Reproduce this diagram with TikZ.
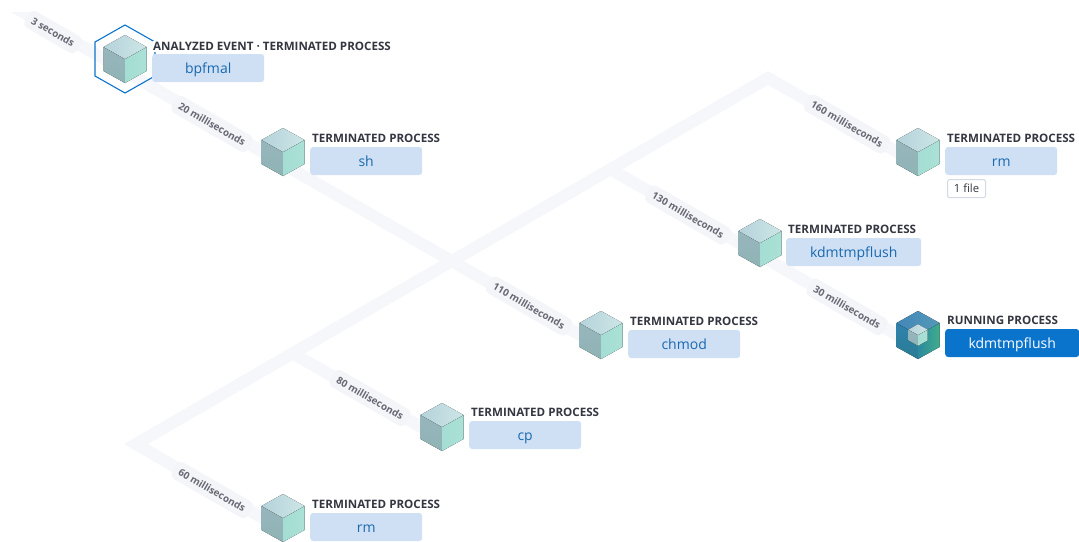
\documentclass[tikz,border=0pt]{standalone}
\usepackage{fontspec}
\setmainfont{Open Sans}
\usetikzlibrary{positioning}
\definecolor{edgegrey}{HTML}{F6F7FA}
\definecolor{pillgrey}{HTML}{F4F5F9}
\definecolor{timegrey}{HTML}{666873}
\definecolor{titledark}{HTML}{343741}
\definecolor{boxblue}{HTML}{CFE0F5}
\definecolor{boxtext}{HTML}{1A69AE}
\definecolor{runblue}{HTML}{0A74CC}
\definecolor{filegrey}{HTML}{D3DAE6}
\tikzset{
  edgeline/.style={draw=edgegrey,line width=12pt},
  timelabel/.style={fill=pillgrey,rounded corners=5pt,inner xsep=6pt,inner ysep=0pt,minimum height=19pt,text=timegrey,font=\fontsize{9.9}{10}\selectfont\bfseries,rotate=-30},
  procbox/.style={fill=boxblue,text=boxtext,rounded corners=3pt,minimum width=112pt,minimum height=28pt,inner sep=0pt,text height=10pt,text depth=0pt,font=\fontsize{14}{15}\selectfont},
  runbox/.style={procbox,fill=runblue,text=white,minimum width=134pt},
  proctitle/.style={text=titledark,inner sep=0pt,font=\fontsize{11.6}{12}\selectfont\bfseries},
  filebox/.style={draw=filegrey,line width=1pt,fill=white,rounded corners=1.5pt,inner sep=0pt,minimum width=38pt,minimum height=18pt,text=titledark,font=\fontsize{11.3}{12}\selectfont},
  pics/cube/.style={code={
    \fill[top color=HTMLa,bottom color=HTMLb] (0,0) -- (-21.5,-12) -- (-21.5,12) -- (0,24) -- cycle;
    \fill[left color=HTMLc,right color=HTMLd] (0,0) -- (21.5,-12) -- (21.5,12) -- (0,24) -- cycle;
    \fill[left color=HTMLe,right color=HTMLf] (0,0) -- (-21.5,-12) -- (0,-24) -- (21.5,-12) -- cycle;
  }},
  pics/runcube/.style={code={
    \fill[top color=HTMLg,bottom color=HTMLh] (0,0) -- (-21.5,-12) -- (-21.5,12) -- (0,24) -- cycle;
    \fill[left color=HTMLi,right color=HTMLj] (0,0) -- (21.5,-12) -- (21.5,12) -- (0,24) -- cycle;
    \fill[left color=HTMLk,right color=HTMLl] (0,0) -- (-21.5,-12) -- (0,-24) -- (21.5,-12) -- cycle;
  }}
}
\definecolor{HTMLa}{HTML}{97B6BC}
\definecolor{HTMLb}{HTML}{8FB3B5}
\definecolor{HTMLc}{HTML}{A4DDD3}
\definecolor{HTMLd}{HTML}{ABE1D7}
\definecolor{HTMLe}{HTML}{B5D3DB}
\definecolor{HTMLf}{HTML}{CDE5E6}
\definecolor{HTMLg}{HTML}{2F82AE}
\definecolor{HTMLh}{HTML}{2A7C93}
\definecolor{HTMLi}{HTML}{2B8A9E}
\definecolor{HTMLj}{HTML}{40AC8C}
\definecolor{HTMLk}{HTML}{4287B8}
\definecolor{HTMLl}{HTML}{5499B8}
\begin{document}
\begin{tikzpicture}[x=1pt,y=-1pt]
\useasboundingbox (0,0) rectangle (1079,541);
% points where the edges meet the cubes
\coordinate (bpfmal) at (125,71);
\coordinate (sh) at (283,164);
\coordinate (chmod) at (601,347);
\coordinate (cp) at (442,439);
\coordinate (rmlow) at (283,530);
\coordinate (rmtop) at (918,164);
\coordinate (flusha) at (760,255);
\coordinate (flushb) at (918,347);
% edges
\coordinate (origin) at (2,0);
\coordinate (peak) at (768,78);
\coordinate (foot) at (136,444);
\coordinate (forka) at (610,169);
\coordinate (forkb) at (292,353);
\begin{scope}
\clip (0,12) rectangle (1079,541);
\draw[edgeline] (origin) -- (bpfmal) -- (sh) -- (chmod);
\end{scope}
\draw[edgeline] (rmlow) -- (foot) -- (peak) -- (rmtop);
\draw[edgeline] (forka) -- (flusha) -- (flushb);
\draw[edgeline] (forkb) -- (cp);
% times
\node[timelabel] (t3s) at (53,32) {3 seconds};
\node[timelabel] (t20) at (212,124) {20 milliseconds};
\node[timelabel] (t160) at (847,124) {160 milliseconds};
\node[timelabel] (t130) at (688,215) {130 milliseconds};
\node[timelabel] (t110) at (529,306) {110 milliseconds};
\node[timelabel] (t30) at (847,307) {30 milliseconds};
\node[timelabel] (t80) at (370,398) {80 milliseconds};
\node[timelabel] (t60) at (212,490) {60 milliseconds};
% cubes
\draw[runblue,line width=1.1pt] (125,25) -- (155,42) -- (155,76) -- (125,93) -- (95,76) -- (95,42) -- cycle;
\pic at ([yshift=12pt]bpfmal) {cube};
\pic at ([yshift=12pt]sh) {cube};
\pic at ([yshift=12pt]chmod) {cube};
\pic at ([yshift=12pt]cp) {cube};
\pic at ([yshift=12pt]rmlow) {cube};
\pic at ([yshift=12pt]rmtop) {cube};
\pic at ([yshift=12pt]flusha) {cube};
\pic at ([yshift=12pt]flushb) {runcube};
\pic[scale=0.45] at ([yshift=12pt]flushb) {cube};
% boxes
\node[procbox,anchor=west] (bpfmalbox) at (152,68) {bpfmal};
\node[procbox,anchor=west] (shbox) at (310,161) {sh};
\node[procbox,anchor=west] (chmodbox) at (628,344) {chmod};
\node[procbox,anchor=west] (cpbox) at (469,435) {cp};
\node[procbox,anchor=west] (rmlowbox) at (310,527) {rm};
\node[procbox,anchor=west] (rmtopbox) at (945,161) {rm};
\node[procbox,anchor=west,minimum width=135pt] (flushabox) at (786,252) {kdmtmpflush};
\node[runbox,anchor=west] (flushbbox) at (945,343) {kdmtmpflush};
\node[proctitle,fill=white,inner ysep=1.5pt,above=1.5pt of bpfmalbox.north west,anchor=south west,xshift=1pt] (bpfmaltitle) {ANALYZED EVENT · TERMINATED PROCESS};
\node[proctitle,above=4pt of shbox.north west,anchor=south west,xshift=2pt] (shtitle) {TERMINATED PROCESS};
\node[proctitle,above=4pt of chmodbox.north west,anchor=south west,xshift=2pt] (chmodtitle) {TERMINATED PROCESS};
\node[proctitle,above=4pt of cpbox.north west,anchor=south west,xshift=2pt] (cptitle) {TERMINATED PROCESS};
\node[proctitle,above=4pt of rmlowbox.north west,anchor=south west,xshift=2pt] (rmlowtitle) {TERMINATED PROCESS};
\node[proctitle,above=4pt of rmtopbox.north west,anchor=south west,xshift=2pt] (rmtoptitle) {TERMINATED PROCESS};
\node[proctitle,above=4pt of flushabox.north west,anchor=south west,xshift=2pt] (flushatitle) {TERMINATED PROCESS};
\node[proctitle,above=4pt of flushbbox.north west,anchor=south west,xshift=2pt] (flushbtitle) {RUNNING PROCESS};
\node[filebox,below=4pt of rmtopbox.south west,anchor=north west,xshift=2pt] (rmfiles) {1 file};
\end{tikzpicture}
\end{document}
